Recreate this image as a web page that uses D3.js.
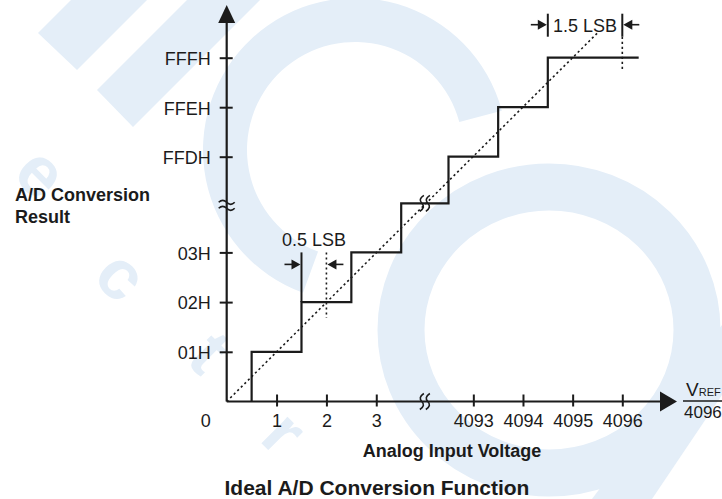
<!DOCTYPE html>
<html>
<head>
<meta charset="utf-8">
<script src="https://cdn.jsdelivr.net/npm/d3@7"></script>
<style>
body { margin: 0; background: #fff; }
svg { display: block; font-family: Arial, "Liberation Sans", sans-serif; }
</style>
</head>
<body>
<svg width="722" height="499"></svg>
<script>
// code positions on the (broken) axes: 0..3 then a break, then 4093..4096
var xTickIndex = [1, 2, 3, 5, 6, 7, 8];
var xTickLabels = ["1", "2", "3", "4093", "4094", "4095", "4096"];
var yTickIndex = [1, 2, 3, 5, 6, 7];
var yTickLabels = ["01H", "02H", "03H", "FFDH", "FFEH", "FFFH"];

// transfer function: input index where the code steps up, and the new code level
var stepX = [0.5, 1.5, 2.5, 3.5, 4.5, 5.5, 6.5];
var stepLevel = [1, 2, 3, 4, 5, 6, 7];
var stepEnd = 8.33;

// ideal (straight) transfer line, in index units
var idealLine = [[0, 0], [7.5, 7.5]];
var breakIndex = 4;

var svg = d3.select("svg");
var ink = "#1b1b1b";
var wm = "#e4eef8";

var x = d3.scaleLinear().domain([0, 3.5, 4.5, 8]).range([226.7, 401.2, 448.5, 622.3]);
var y = d3.scaleLinear().domain([0, 3, 4, 5, 7]).range([401.5, 252.4, 203.3, 156.7, 57.7]);

// -- watermark --
var bg = svg.append("g").attr("fill", wm).attr("stroke", "none");
bg.append("polygon").attr("points", "38,33 77,70 287,-140 248,-177");
bg.append("polygon").attr("points", "97,90 133,127 343,-83 307,-120");
var arc1 = d3.arc().innerRadius(108).outerRadius(152)
    .startAngle(-160 * Math.PI / 180).endAngle(75 * Math.PI / 180);
bg.append("path").attr("transform", "translate(355,150)").attr("d", arc1);
bg.append("ellipse").attr("cx", 549).attr("cy", 330).attr("rx", 148).attr("ry", 143)
  .attr("fill", "none").attr("stroke", wm).attr("stroke-width", 47);
bg.append("polygon").attr("points", "722,325 722,395 652,499 592,499");
var letters = [["e", 42, 172], ["c", 122, 275], ["t", 210, 352], ["r", 285, 432]];
bg.selectAll("text.wm").data(letters).enter().append("text")
  .attr("class", "wm")
  .attr("transform", function(d) { return "translate(" + d[1] + "," + d[2] + ") rotate(45)"; })
  .attr("text-anchor", "middle")
  .attr("dy", "0.35em")
  .style("font-size", "70px")
  .style("font-weight", "bold")
  .attr("fill", wm)
  .text(function(d) { return d[0]; });

// -- axes --
var xAxis = svg.append("g")
    .attr("transform", "translate(0," + y(0) + ")")
    .call(d3.axisBottom(x).tickValues(xTickIndex)
      .tickFormat(function(d, i) { return xTickLabels[i]; })
      .tickSize(0).tickPadding(13));
xAxis.select(".domain").remove();
xAxis.selectAll("line").attr("y1", -7).attr("y2", 5).attr("stroke", ink).attr("stroke-width", 2);
xAxis.selectAll("text").style("font-size", "18px").attr("fill", ink).style("font-family", "Arial, 'Liberation Sans', sans-serif");

var yAxis = svg.append("g")
    .attr("transform", "translate(" + x(0) + ",0)")
    .call(d3.axisLeft(y).tickValues(yTickIndex)
      .tickFormat(function(d, i) { return yTickLabels[i]; })
      .tickSize(0).tickPadding(16));
yAxis.select(".domain").remove();
yAxis.selectAll("line").attr("x1", -7).attr("x2", 6).attr("stroke", ink).attr("stroke-width", 2);
yAxis.selectAll("text").style("font-size", "18px").attr("dy", "0.38em").attr("fill", ink).style("font-family", "Arial, 'Liberation Sans', sans-serif");

svg.append("text").attr("x", x(0) - 21).attr("y", y(0) + 25.5)
  .attr("text-anchor", "middle").style("font-size", "18px").attr("fill", ink).text("0");

var axisTop = 5, axisRight = 677;
svg.append("line").attr("x1", x(0)).attr("y1", y(0)).attr("x2", x(0)).attr("y2", axisTop + 16)
  .attr("stroke", ink).attr("stroke-width", 2.2);
svg.append("line").attr("x1", x(0)).attr("y1", y(0)).attr("x2", axisRight - 14).attr("y2", y(0))
  .attr("stroke", ink).attr("stroke-width", 2.2);
svg.append("path").attr("fill", ink)
  .attr("d", "M" + x(0) + "," + axisTop + "L" + (x(0) - 8.5) + "," + (axisTop + 18) + "L" + (x(0) + 8.5) + "," + (axisTop + 18) + "Z");
svg.append("path").attr("fill", ink)
  .attr("d", "M" + axisRight + "," + y(0) + "L" + (axisRight - 17) + "," + (y(0) - 10) + "L" + (axisRight - 17) + "," + (y(0) + 10) + "Z");

// -- ideal line --
svg.append("line")
  .attr("x1", x(idealLine[0][0])).attr("y1", y(idealLine[0][1]))
  .attr("x2", x(idealLine[1][0])).attr("y2", y(idealLine[1][1]))
  .attr("stroke", ink).attr("stroke-width", 1.6).attr("stroke-dasharray", "2.2,2.8");

// -- staircase --
var pts = [[stepX[0], 0]];
stepX.forEach(function(d, i) { pts.push([d, stepLevel[i]]); });
pts.push([stepEnd, stepLevel[stepLevel.length - 1]]);
svg.append("path")
  .attr("d", d3.line().x(function(d) { return x(d[0]); }).y(function(d) { return y(d[1]); })
    .curve(d3.curveStepAfter)(pts))
  .attr("fill", "none").attr("stroke", ink).attr("stroke-width", 2.2);

// -- break marks --
function vBreak(cx, cy) {
  [-3, 3].forEach(function(o) {
    var c = cx + o;
    svg.append("path")
      .attr("d", "M" + (c + 2) + "," + (cy - 8) + "Q" + (c - 4) + "," + (cy - 4) + " " + c + "," + cy +
                 "Q" + (c + 4) + "," + (cy + 4) + " " + (c - 2) + "," + (cy + 8))
      .attr("fill", "none").attr("stroke", ink).attr("stroke-width", 1.6);
  });
}
function hBreak(cx, cy) {
  [-3, 3].forEach(function(o) {
    var c = cy + o;
    svg.append("path")
      .attr("d", "M" + (cx - 8) + "," + c + "Q" + (cx - 4) + "," + (c - 4) + " " + cx + "," + c +
                 "Q" + (cx + 4) + "," + (c + 4) + " " + (cx + 8) + "," + c)
      .attr("fill", "none").attr("stroke", ink).attr("stroke-width", 1.6);
  });
}
vBreak(x(breakIndex), y(0));
vBreak(x(breakIndex), y(breakIndex));
hBreak(x(0), y(breakIndex) + 2);

// -- LSB annotations --
function arrow(tip, yy, dir) {
  // dir = +1 points right, -1 points left
  svg.append("line").attr("x1", tip - dir * 16).attr("x2", tip - dir * 7).attr("y1", yy).attr("y2", yy)
    .attr("stroke", ink).attr("stroke-width", 1.6);
  svg.append("path").attr("fill", ink)
    .attr("d", "M" + tip + "," + yy + "L" + (tip - dir * 9) + "," + (yy - 5) + "L" + (tip - dir * 9) + "," + (yy + 5) + "Z");
}
function vline(xx, y1, y2, dotted) {
  var l = svg.append("line").attr("x1", xx).attr("x2", xx).attr("y1", y1).attr("y2", y2)
    .attr("stroke", ink).attr("stroke-width", dotted ? 1.6 : 2);
  if (dotted) l.attr("stroke-dasharray", "2.2,2.8");
}

// 0.5 LSB
vline(x(1.5), y(2), y(3), false);
vline(x(2), y(3), y(2) + 16, true);
arrow(x(1.5) - 1, y(3) + 12, 1);
arrow(x(2) + 1, y(3) + 12, -1);
svg.append("text").attr("x", (x(1.5) + x(2)) / 2).attr("y", y(3) - 6)
  .attr("text-anchor", "middle").style("font-size", "18px").attr("fill", ink).text("0.5 LSB");

// 1.5 LSB
var topY = y(7) - 44;
vline(x(6.5), topY, topY + 23, false);
vline(x(8), topY, topY + 23, false);
vline(x(8), topY + 23, y(7) + 14, true);
arrow(x(6.5) - 1, topY + 11, 1);
arrow(x(8) + 1, topY + 11, -1);
svg.append("text").attr("x", (x(6.5) + x(8)) / 2).attr("y", topY + 18)
  .attr("text-anchor", "middle").style("font-size", "18px").attr("fill", ink).text("1.5 LSB");

// -- VREF / 4096 --
var vr = svg.append("text").attr("x", 686).attr("y", 396).attr("fill", ink);
vr.append("tspan").style("font-size", "19px").text("V");
vr.append("tspan").style("font-size", "11px").text("REF");
svg.append("line").attr("x1", 683).attr("x2", 722).attr("y1", 401).attr("y2", 401)
  .attr("stroke", ink).attr("stroke-width", 1.5);
svg.append("text").attr("x", 684).attr("y", 417.5).style("font-size", "17px").attr("fill", ink).text("4096");

// -- titles --
svg.append("text").attr("x", 15).attr("y", 201).style("font-size", "18px").style("font-weight", "bold")
  .attr("fill", ink).text("A/D Conversion");
svg.append("text").attr("x", 15).attr("y", 223).style("font-size", "18px").style("font-weight", "bold")
  .attr("fill", ink).text("Result");
svg.append("text").attr("x", 452).attr("y", 457).attr("text-anchor", "middle")
  .style("font-size", "18px").style("font-weight", "bold").attr("fill", ink).text("Analog Input Voltage");
svg.append("text").attr("x", 377).attr("y", 495).attr("text-anchor", "middle")
  .style("font-size", "21px").style("font-weight", "bold").attr("fill", ink).text("Ideal A/D Conversion Function");
</script>
</body>
</html>
